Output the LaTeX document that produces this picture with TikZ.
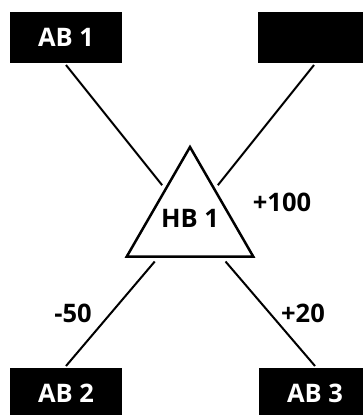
\documentclass[tikz,border=0pt]{standalone}
\usepackage{fontspec}
\setmainfont{Open Sans}
\usetikzlibrary{shapes.geometric}
\tikzset{
  abbox/.style={fill=black,text=white,minimum width=112pt,minimum height=51pt,
    inner sep=0pt,outer sep=2pt,font=\fontsize{25.5}{25.5}\selectfont\bfseries},
  hbtri/.style={draw,regular polygon,regular polygon sides=3,minimum size=146pt,
    inner sep=0pt,outer sep=5pt,line width=2.5pt},
  link/.style={line width=2pt},
  val/.style={font=\fontsize{25.5}{25.5}\selectfont\bfseries}
}
\begin{document}
\begin{tikzpicture}[x=1pt,y=-1pt]
  \useasboundingbox (0,0) rectangle (363,415);
  % boxes
  \node[abbox] (ab1) at (66,37.5) {AB 1};
  \node[abbox] (ab0) at (314,37.5) {};
  \node[abbox] (ab2) at (66,393.5) {AB 2};
  \node[abbox] (ab3) at (315,393.5) {AB 3};
  \node[hbtri] (hb) at (190,220) {};
  \node[val] (hbtext) at (190,218) {HB 1};
  % links
  \draw[link] (ab1.south) -- (hb);
  \draw[link] (ab0.south) -- (hb);
  \draw[link] (ab2.north) -- (hb);
  \draw[link] (ab3.north) -- (hb);
  % values
  \node[val] (v100) at (282,202) {+100};
  \node[val] (v50) at (73,313) {-50};
  \node[val] (v20) at (303,313) {+20};
\end{tikzpicture}
\end{document}
